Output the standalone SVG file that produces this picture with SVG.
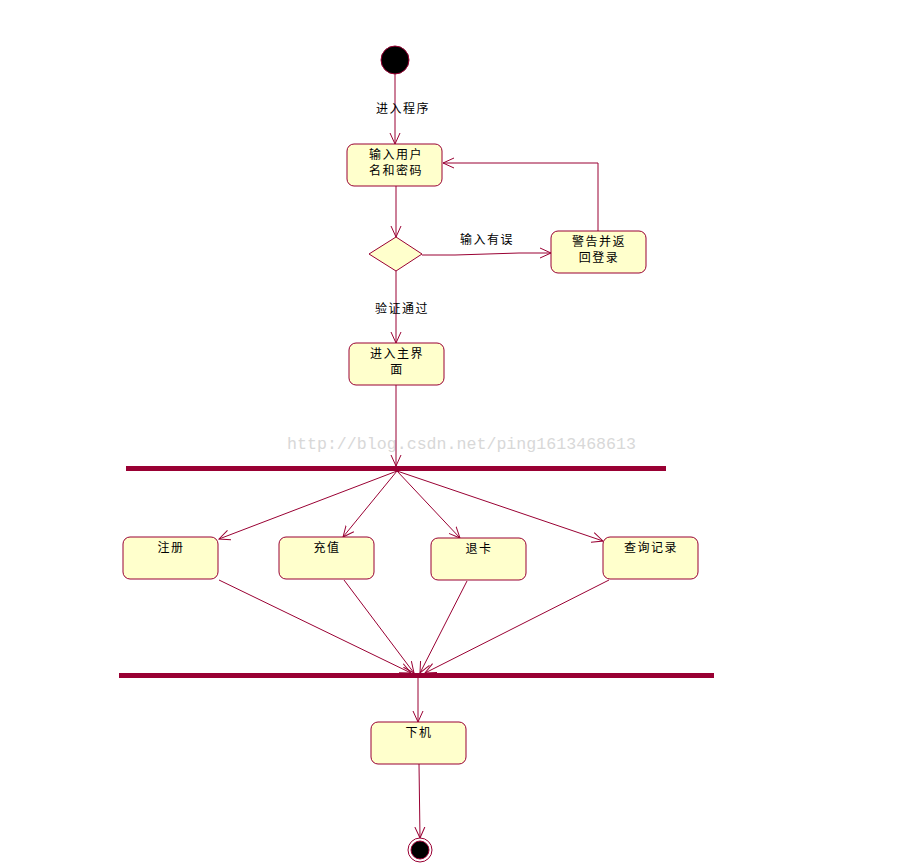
<svg xmlns="http://www.w3.org/2000/svg" width="906" height="865" viewBox="0 0 906 865">
<style>
.box{fill:#ffffcc;stroke:#990033;stroke-width:1}
.t{font-family:"Liberation Sans","Noto Sans CJK SC",sans-serif;font-size:12px;letter-spacing:1.5px;fill:#000;text-anchor:middle}
.c{fill:none;stroke:#990033;stroke-width:1}
.bar{fill:#990033}
.wm{font-family:"Liberation Mono","DejaVu Sans Mono",monospace;font-size:16.6px;fill:#d8d8d8}
</style>
<defs>
<marker id="a" viewBox="0 0 12 12" refX="11" refY="6" markerWidth="12" markerHeight="12" markerUnits="userSpaceOnUse" orient="auto">
<path d="M0,1 L11,6 L0,11" fill="none" stroke="#990033" stroke-width="1"/>
</marker>
</defs>
<rect width="906" height="865" fill="#fff"/>
<text class="wm" x="287" y="449" textLength="349" lengthAdjust="spacingAndGlyphs">http://blog.csdn.net/ping1613468613</text>
<g id="connectors">
<line class="c" x1="395" y1="74" x2="395" y2="144" marker-end="url(#a)"/>
<line class="c" x1="396" y1="186" x2="396" y2="237" marker-end="url(#a)"/>
<polyline class="c" points="422,255 455,255 519,253 551,253" marker-end="url(#a)"/>
<polyline class="c" points="598,231 598,163 443,163" marker-end="url(#a)"/>
<line class="c" x1="396" y1="271" x2="396" y2="343" marker-end="url(#a)"/>
<line class="c" x1="396" y1="385" x2="396" y2="466" marker-end="url(#a)"/>
<line class="c" x1="397" y1="471" x2="219" y2="539" marker-end="url(#a)"/>
<line class="c" x1="397" y1="471" x2="343" y2="537" marker-end="url(#a)"/>
<line class="c" x1="397" y1="471" x2="460" y2="538" marker-end="url(#a)"/>
<line class="c" x1="397" y1="471" x2="603" y2="541" marker-end="url(#a)"/>
<line class="c" x1="219" y1="580" x2="411" y2="673" marker-end="url(#a)"/>
<line class="c" x1="344" y1="580" x2="414" y2="673" marker-end="url(#a)"/>
<line class="c" x1="467" y1="581" x2="420" y2="673" marker-end="url(#a)"/>
<line class="c" x1="609" y1="580" x2="425" y2="673" marker-end="url(#a)"/>
<line class="c" x1="418" y1="678" x2="418" y2="722" marker-end="url(#a)"/>
<line class="c" x1="419" y1="764" x2="420" y2="838" marker-end="url(#a)"/>
<text class="t" x="403" y="113">进入程序</text>
<text class="t" x="487" y="244">输入有误</text>
<text class="t" x="402" y="313">验证通过</text>
</g>
<g id="start"><circle cx="395" cy="60" r="14" fill="#000" stroke="#990033" stroke-width="1"/></g>
<g id="login"><rect class="box" x="347" y="144" width="95" height="42" rx="7"/><text class="t" x="396" y="159">输入用户</text><text class="t" x="396" y="175">名和密码</text></g>
<g id="decision"><polygon class="box" points="369,254 396,237 422,254 396,271"/></g>
<g id="warn"><rect class="box" x="551" y="231" width="95" height="42" rx="7"/><text class="t" x="599" y="246">警告并返</text><text class="t" x="599" y="262">回登录</text></g>
<g id="main"><rect class="box" x="349" y="343" width="95" height="42" rx="7"/><text class="t" x="397" y="358">进入主界</text><text class="t" x="397" y="374">面</text></g>
<g id="fork"><rect class="bar" x="126" y="466" width="540" height="5"/></g>
<g id="register"><rect class="box" x="123" y="537" width="95" height="42" rx="7"/><text class="t" x="171" y="552">注册</text></g>
<g id="recharge"><rect class="box" x="279" y="537" width="95" height="42" rx="7"/><text class="t" x="327" y="552">充值</text></g>
<g id="refund"><rect class="box" x="431" y="538" width="95" height="42" rx="7"/><text class="t" x="479" y="553">退卡</text></g>
<g id="query"><rect class="box" x="603" y="537" width="95" height="42" rx="7"/><text class="t" x="651" y="552">查询记录</text></g>
<g id="join"><rect class="bar" x="119" y="673" width="595" height="5"/></g>
<g id="logout"><rect class="box" x="371" y="722" width="95" height="42" rx="7"/><text class="t" x="419" y="737">下机</text></g>
<g id="end"><circle cx="420" cy="850" r="12" fill="#fff" stroke="#990033" stroke-width="1"/><circle cx="420" cy="850" r="9" fill="#000" stroke="#990033" stroke-width="1"/></g>
</svg>
